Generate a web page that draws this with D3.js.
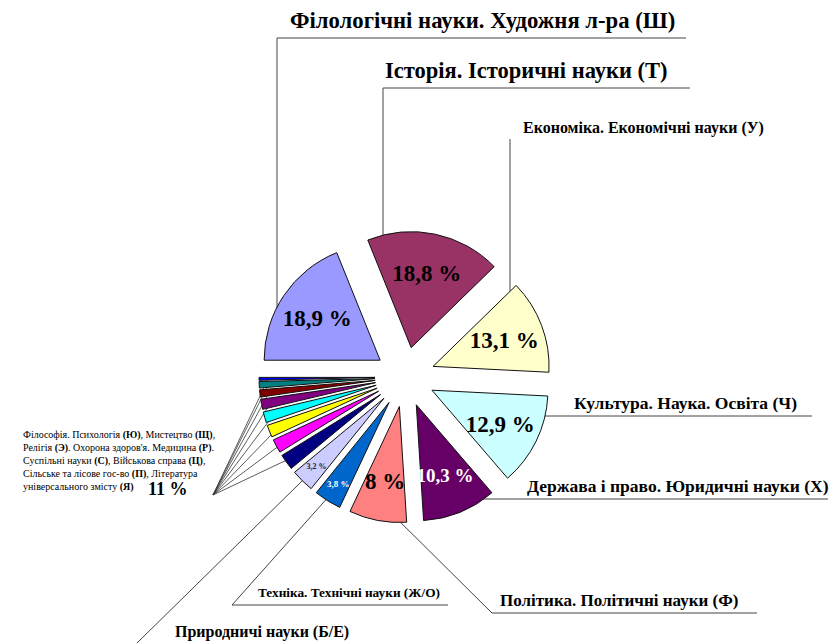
<!DOCTYPE html>
<html>
<head>
<meta charset="utf-8">
<script src="https://cdn.jsdelivr.net/npm/d3@7"></script>
<style>
  body { margin: 0; background: #fff; }
  svg { display: block; }
  text { font-family: "Liberation Serif", "DejaVu Serif", serif; }
</style>
</head>
<body>
<div id="chart"></div>
<script>
// Data
const categories = [
  "Філологічні науки. Художня л-ра (Ш)",
  "Історія. Історичні науки (Т)",
  "Економіка. Економічні науки (У)",
  "Культура. Наука. Освіта (Ч)",
  "Держава і право. Юридичні науки (Х)",
  "Політика. Політичні науки (Ф)",
  "Техніка. Технічні науки (Ж/О)",
  "Природничі науки (Б/Е)",
  "Філософія. Психологія (Ю)",
  "Мистецтво (Щ)",
  "Релігія (Э)",
  "Охорона здоров'я. Медицина (Р)",
  "Суспільні науки (С)",
  "Військова справа (Ц)",
  "Сільське та лісове гос-во (П)",
  "Література універсального змісту (Я)"
];
const values = [18.9, 18.8, 13.1, 12.9, 10.3, 8, 3.8, 3.2, 2.2, 1.9, 1.7, 1.5, 1.4, 1.0, 0.9, 0.4];
const percentLabels = ["18,9 %", "18,8 %", "13,1 %", "12,9 %", "10,3 %", "8 %", "3,8 %", "3,2 %"];
const groupLabel = "11 %";
const colors = ["#9999FF", "#993366", "#FFFFCC", "#CCFFFF", "#660066", "#FF8080", "#0066CC", "#CCCCFF",
                "#000080", "#FF00FF", "#FFFF00", "#00FFFF", "#800080", "#800000", "#008080", "#0000FF"];
// legend block for the small slices, [text, bold] pieces per line
const groupText = [
  [["Філософія. Психологія ", false], ["(Ю)", true], [", Мистецтво ", false], ["(Щ)", true], [",", false]],
  [["Релігія ", false], ["(Э)", true], [". Охорона здоров'я. Медицина ", false], ["(Р)", true], [".", false]],
  [["Суспільні науки ", false], ["(С)", true], [", Військова справа ", false], ["(Ц)", true], [",", false]],
  [["Сільське та лісове гос-во ", false], ["(П)", true], [", Література", false]],
  [["універсального змісту ", false], ["(Я)", true]]
];

const width = 839, height = 643;
const cx = 405, cy = 377, radius = 116, explode = 30;
const serif = "'Liberation Serif', 'DejaVu Serif', serif";

const svg = d3.select("#chart").append("svg")
  .attr("width", width).attr("height", height)
  .attr("font-family", serif);

const pie = d3.pie().sort(null).value(d => d)
  .startAngle(-Math.PI / 2).endAngle(Math.PI * 1.5);
const arcs = pie(values);
const arc = d3.arc().innerRadius(0).outerRadius(radius);

const mid = d => (d.startAngle + d.endAngle) / 2;
const apex = d => [cx + Math.sin(mid(d)) * explode, cy - Math.cos(mid(d)) * explode];
const polar = (d, ang, r) => { const a = apex(d); return [a[0] + Math.sin(ang) * r, a[1] - Math.cos(ang) * r]; };

// leader lines (drawn under slices)
const line = d3.line();
const leaders = [
  [[277, 330], [277, 38], [686, 38]],
  [[383, 243], [383, 88], [690, 88]],
  [[510, 312], [510, 139]],
  [[545, 416], [812, 416]],
  [[463, 499], [828, 499]],
  [[380, 502], [492, 613], [757, 613]],
  [null, [232, 605], [448, 605]],
  [null, [137, 643]]
];
const lg = svg.append("g");
leaders.forEach((pts, i) => {
  const p = pts.slice();
  if (p[0] === null) p[0] = polar(arcs[i], mid(arcs[i]), radius * 0.9);
  lg.append("path").attr("d", line(p))
    .attr("fill", "none").attr("stroke", "#444").attr("stroke-width", 1);
});
const hub = [213, 495];
arcs.slice(8).forEach(d => {
  lg.append("path").attr("d", line([polar(d, mid(d), radius * 0.92), hub]))
    .attr("fill", "none").attr("stroke", "#333").attr("stroke-width", 0.8);
});

// slices
svg.append("g").selectAll("path")
  .data(arcs).enter().append("path")
  .attr("transform", d => `translate(${apex(d)[0]},${apex(d)[1]})`)
  .attr("d", arc)
  .attr("fill", (d, i) => colors[i])
  .attr("stroke", "#111").attr("stroke-width", 1);

// percent labels inside slices
const pctStyle = [
  { size: 23, fill: "#000" }, { size: 23, fill: "#000" }, { size: 23, fill: "#000" }, { size: 23, fill: "#000" },
  { size: 19, fill: "#fff" }, { size: 23, fill: "#000" }, { size: 9, fill: "#fff" }, { size: 8, fill: "#222" }
];
svg.append("g").selectAll("text")
  .data(arcs.slice(0, 8)).enter().append("text")
  .attr("x", d => polar(d, mid(d), d.data > 5 ? 76 : 96)[0])
  .attr("y", d => polar(d, mid(d), d.data > 5 ? 76 : 96)[1])
  .attr("dy", "0.35em")
  .attr("text-anchor", "middle")
  .attr("font-weight", "bold")
  .attr("font-size", (d, i) => pctStyle[i].size)
  .attr("fill", (d, i) => pctStyle[i].fill)
  .text((d, i) => percentLabels[i]);

// outside category labels
const outLabels = [
  { x: 290, y: 28, size: 22.7 },
  { x: 385, y: 78, size: 22.5 },
  { x: 523, y: 133, size: 16 },
  { x: 574, y: 409, size: 17.5 },
  { x: 527, y: 492, size: 17.5 },
  { x: 500, y: 606, size: 17 },
  { x: 258, y: 597, size: 13.3 },
  { x: 175, y: 637, size: 16 }
];
svg.append("g").selectAll("text")
  .data(outLabels).enter().append("text")
  .attr("x", d => d.x).attr("y", d => d.y)
  .attr("font-size", d => d.size)
  .attr("font-weight", "bold")
  .attr("fill", "#000")
  .text((d, i) => categories[i]);

// small-slice group description
const gt = svg.append("g").attr("font-size", 10);
groupText.forEach((parts, j) => {
  const t = gt.append("text").attr("x", 23).attr("y", 438 + j * 13);
  parts.forEach(p => t.append("tspan").attr("font-weight", p[1] ? "bold" : "normal").text(p[0]));
});
svg.append("text").attr("x", 148).attr("y", 495)
  .attr("font-size", 18).attr("font-weight", "bold").text(groupLabel);
</script>
</body>
</html>
